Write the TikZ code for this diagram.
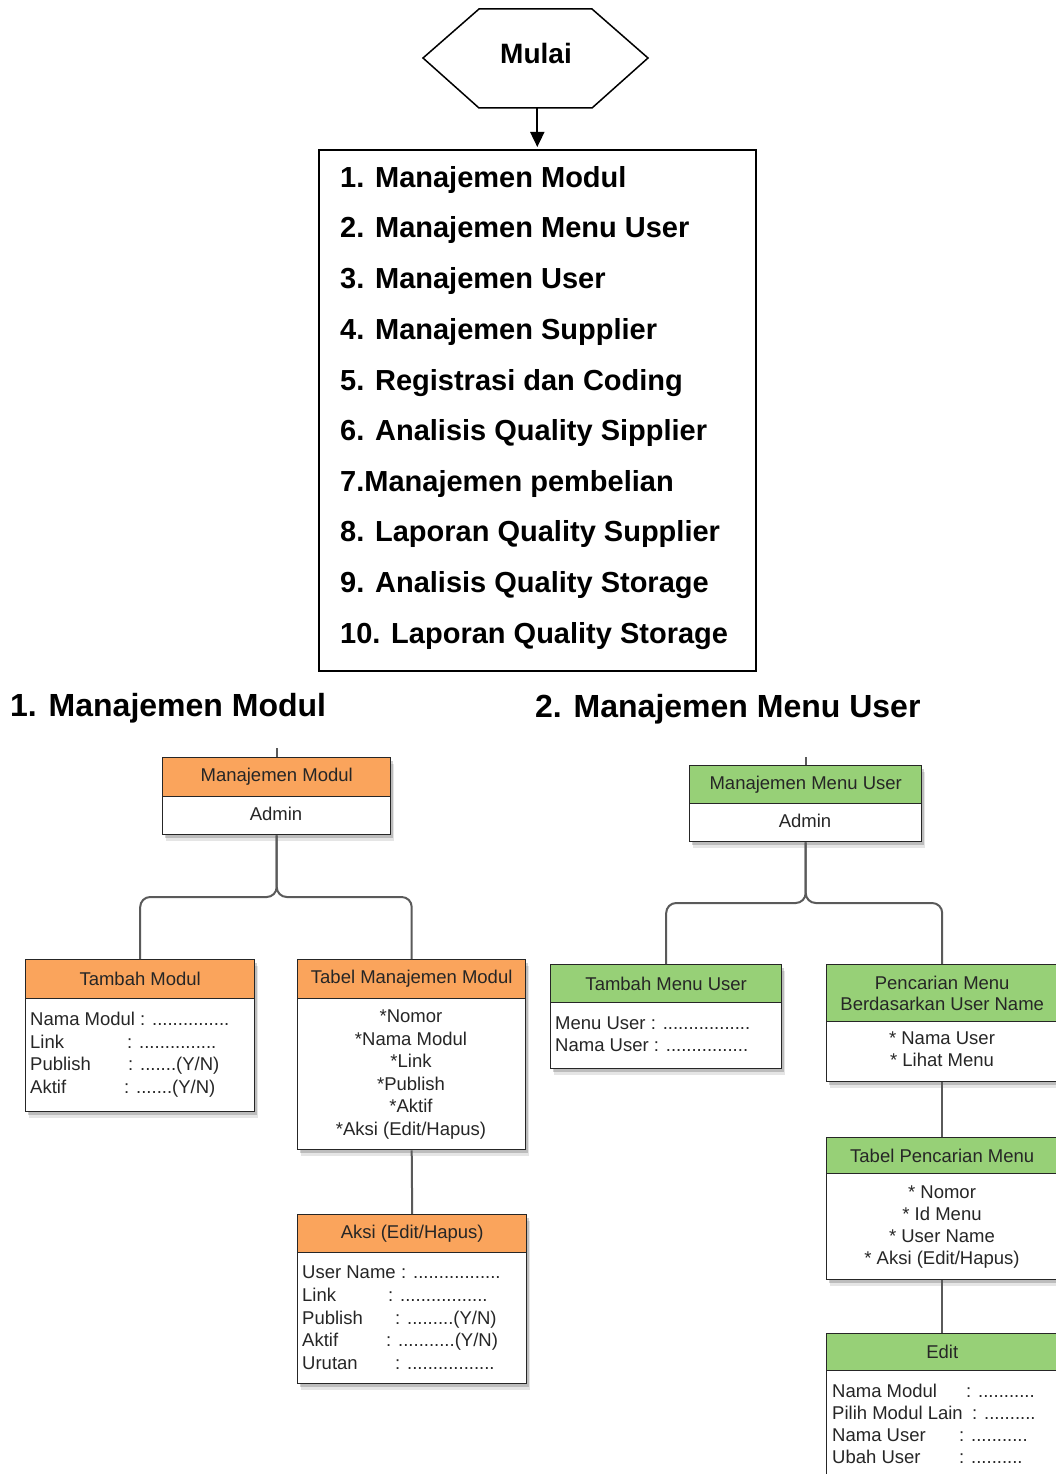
\documentclass[tikz,border=0pt]{standalone}
\usepackage{fontspec}
\setmainfont{Liberation Sans}
\usetikzlibrary{shadows,arrows.meta,calc}
\definecolor{orhd}{HTML}{FAA45C}
\definecolor{grhd}{HTML}{97D077}
\definecolor{conn}{HTML}{5A5A5A}
\newcommand{\fl}[2]{\makebox[#1pt][l]{#2}}
\begin{document}
\begin{tikzpicture}[x=1pt,y=-1pt,
  bx/.style={draw=black!85, line width=1.4pt, inner sep=0, anchor=north west, font=\fontsize{18.5}{21}\selectfont, text=black!85},
  shd/.style={drop shadow={shadow xshift=2pt,shadow yshift=-3pt,opacity=.18,fill=black}, drop shadow={shadow xshift=3pt,shadow yshift=-6pt,opacity=.10,fill=black}},
  hdo/.style={bx, shd, fill=orhd},
  hdg/.style={bx, shd, fill=grhd},
  bdy/.style={bx, shd, fill=white},
  ln/.style={inner sep=0, font=\fontsize{18.5}{22}\selectfont, text=black!85},
  lnl/.style={ln, anchor=base west},
  lnc/.style={ln, anchor=base},
  cn/.style={draw=conn, line width=2pt, rounded corners=10pt},
  big/.style={inner sep=0, anchor=base west, font=\fontsize{29}{34}\selectfont\bfseries},
  head/.style={inner sep=0, anchor=base west, font=\fontsize{32}{36}\selectfont\bfseries},
]
\path[use as bounding box] (0,0) rectangle (1056,1474);
\clip (0,0) rectangle (1056,1474);

% start hexagon
\draw[line width=1.5pt] (423,58) -- (479,9) -- (592,9) -- (648,58) -- (592,108) -- (479,108) -- cycle;
\node[inner sep=0, font=\fontsize{28}{32}\selectfont\bfseries] (mulai) at (536,53) {Mulai};
\coordinate (hexb) at (536,108);

% list box
\node[draw, line width=1.6pt, minimum width=437, minimum height=521, anchor=north west, inner sep=0] (lst) at (318,149) {};
\draw[line width=1.8pt, shorten >=2pt, -{Triangle[length=15pt,width=14pt]}] (hexb -| lst.north) -- (lst.north);
\node[big] (l1) at (340,187) {1. Manajemen Modul};
\node[big] (l2) at (340,237) {2. Manajemen Menu User};
\node[big] (l3) at (340,288) {3. Manajemen User};
\node[big] (l4) at (340,339) {4. Manajemen Supplier};
\node[big] (l5) at (340,390) {5. Registrasi dan Coding};
\node[big] (l6) at (340,440) {6. Analisis Quality Sipplier};
\node[big] (l7) at (340,491) {7.Manajemen pembelian};
\node[big] (l8) at (340,541) {8. Laporan Quality Supplier};
\node[big] (l9) at (340,592) {9. Analisis Quality Storage};
\node[big] (l10) at (340,643) {10. Laporan Quality Storage};

% section headings
\node[head] (h1) at (10,716) {1. Manajemen Modul};
\node[head] (h2) at (535,717) {2. Manajemen Menu User};

% ---------- left tree ----------
\node[hdo, minimum width=228, minimum height=39] (mmh) at (162,757) {Manajemen Modul};
\node[bdy, minimum width=228, minimum height=38] (mmb) at (162,796) {};
\node[lnc] (mmt) at (276,820) {Admin};

\node[hdo, minimum width=229, minimum height=39] (tmh) at (25,959) {Tambah Modul};
\node[bdy, minimum width=229, minimum height=113] (tmb) at (25,998) {};
\node[lnl] (tm1) at (30,1025) {\fl{110}{Nama Modul}: ...............};
\node[lnl] (tm2) at (30,1048) {\fl{97}{Link}: ...............};
\node[lnl] (tm3) at (30,1070) {\fl{98}{Publish}: .......(Y/N)};
\node[lnl] (tm4) at (30,1093) {\fl{94}{Aktif}: .......(Y/N)};

\node[hdo, minimum width=228, minimum height=39] (tbh) at (297,959) {Tabel Manajemen Modul};
\node[bdy, minimum width=228, minimum height=151] (tbb) at (297,998) {};
\node[lnc] (tb1) at (411,1022) {*Nomor};
\node[lnc] (tb2) at (411,1045) {*Nama Modul};
\node[lnc] (tb3) at (411,1067) {*Link};
\node[lnc] (tb4) at (411,1090) {*Publish};
\node[lnc] (tb5) at (411,1112) {*Aktif};
\node[lnc] (tb6) at (411,1135) {*Aksi (Edit/Hapus)};

\node[hdo, minimum width=229, minimum height=38] (akh) at (297,1214) {Aksi (Edit/Hapus)};
\node[bdy, minimum width=229, minimum height=131] (akb) at (297,1252) {};
\node[lnl] (ak1) at (302,1278) {\fl{99}{User Name}: .................};
\node[lnl] (ak2) at (302,1301) {\fl{86}{Link}: .................};
\node[lnl] (ak3) at (302,1324) {\fl{93}{Publish}: .........(Y/N)};
\node[lnl] (ak4) at (302,1346) {\fl{84}{Aktif}: ...........(Y/N)};
\node[lnl] (ak5) at (302,1369) {\fl{93}{Urutan}: .................};

\coordinate (s1) at ($(mmh.north)+(0,-9)$);
\coordinate (j1) at (mmb.south |- 0,897);
\draw[cn] (s1) -- (mmh.north);
\draw[cn] (mmb.south) -- (j1) -| (tmh.north);
\draw[cn] (mmb.south) -- (j1) -| (tbh.north);
\draw[cn] (tbb.south) -- (akh.north);

% ---------- right tree ----------
\node[hdg, minimum width=232, minimum height=38] (muh) at (689,765) {Manajemen Menu User};
\node[bdy, minimum width=232, minimum height=38] (mub) at (689,803) {};
\node[lnc] (mut) at (805,827) {Admin};

\node[hdg, minimum width=231, minimum height=38] (tuh) at (550,964) {Tambah Menu User};
\node[bdy, minimum width=231, minimum height=66] (tub) at (550,1002) {};
\node[lnl] (tu1) at (555,1029) {Menu User : .................};
\node[lnl] (tu2) at (555,1051) {Nama User : ................};

\node[hdg, minimum width=231, minimum height=57, align=center] (pch) at (826,964) {Pencarian Menu\\Berdasarkan User Name};
\node[bdy, minimum width=231, minimum height=60] (pcb) at (826,1021) {};
\node[lnc] (pc1) at (942,1044) {* Nama User};
\node[lnc] (pc2) at (942,1066) {* Lihat Menu};

\node[hdg, minimum width=231, minimum height=36] (tph) at (826,1137) {Tabel Pencarian Menu};
\node[bdy, minimum width=231, minimum height=106] (tpb) at (826,1173) {};
\node[lnc] (tp1) at (942,1198) {* Nomor};
\node[lnc] (tp2) at (942,1220) {* Id Menu};
\node[lnc] (tp3) at (942,1242) {* User Name};
\node[lnc] (tp4) at (942,1264) {* Aksi (Edit/Hapus)};

\node[hdg, minimum width=231, minimum height=37] (edh) at (826,1333) {Edit};
\node[bdy, minimum width=231, minimum height=130] (edb) at (826,1370) {};
\node[lnl] (ed1) at (832,1397) {\fl{134}{Nama Modul}: ...........};
\node[lnl] (ed2) at (832,1419) {\fl{140}{Pilih Modul Lain}: ..........};
\node[lnl] (ed3) at (832,1441) {\fl{127}{Nama User}: ...........};
\node[lnl] (ed4) at (832,1463) {\fl{127}{Ubah User}: ..........};

\coordinate (s2) at ($(muh.north)+(0,-8)$);
\coordinate (j2) at (mub.south |- 0,903);
\draw[cn] (s2) -- (muh.north);
\draw[cn] (mub.south) -- (j2) -| (tuh.north);
\draw[cn] (mub.south) -- (j2) -| (pch.north);
\draw[cn] (pcb.south) -- (tph.north);
\draw[cn] (tpb.south) -- (edh.north);
\end{tikzpicture}
\end{document}
